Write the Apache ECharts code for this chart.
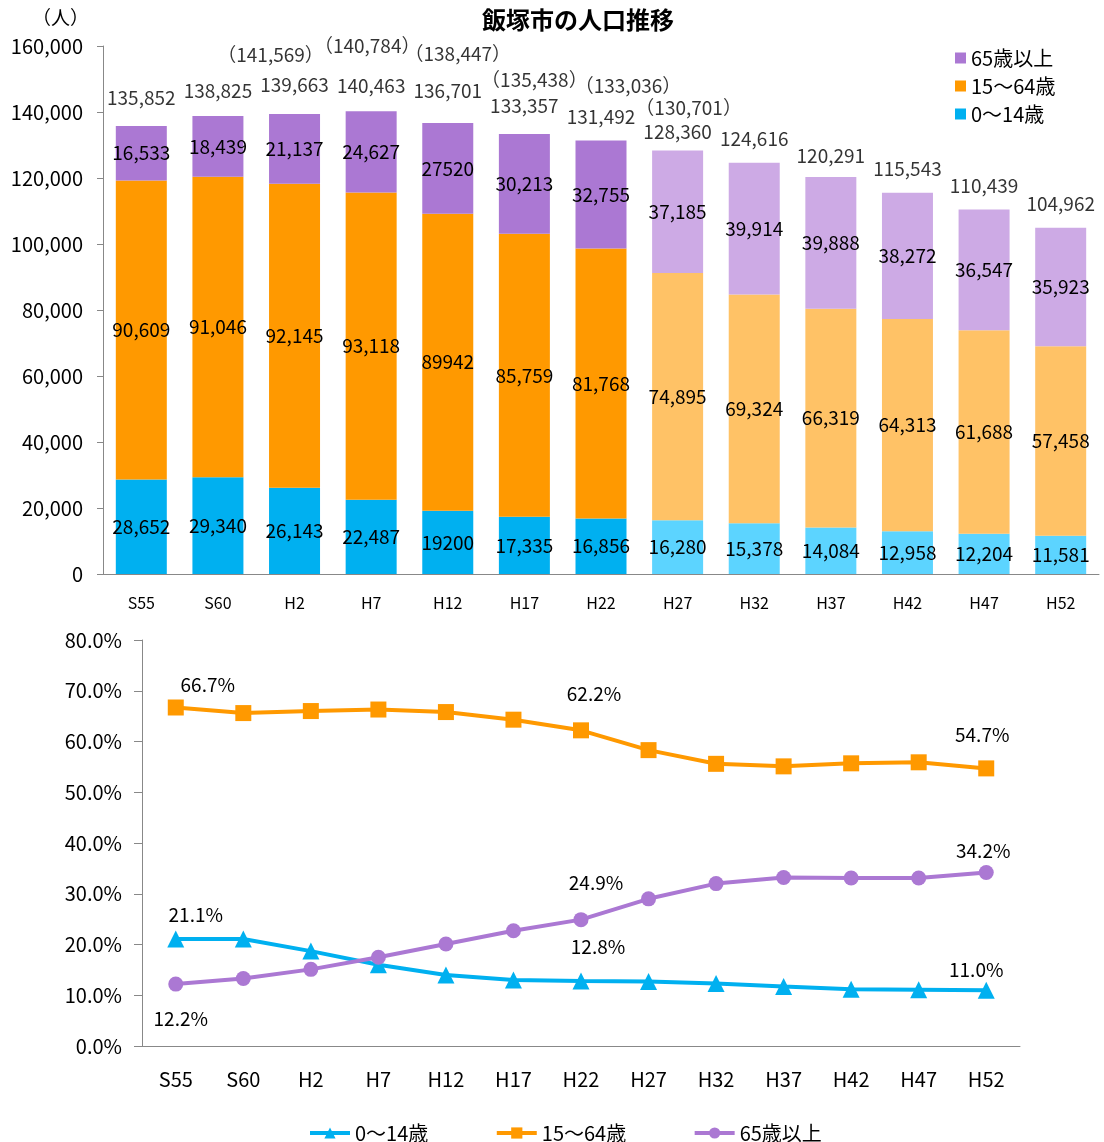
<!DOCTYPE html>
<html><head><meta charset="utf-8">
<script src="https://cdn.jsdelivr.net/npm/echarts@6/dist/echarts.min.js"></script>
<style>html,body{margin:0;padding:0;background:#fff}#c{width:1104px;height:1142px}</style>
</head><body><div id="c"></div>
<script>
// ---------- data ----------
const categories = ['S55','S60','H2','H7','H12','H17','H22','H27','H32','H37','H42','H47','H52'];
const firstProjection = 'H27';
const age0to14  = [28652,29340,26143,22487,19200,17335,16856,16280,15378,14084,12958,12204,11581];
const age15to64 = [90609,91046,92145,93118,89942,85759,81768,74895,69324,66319,64313,61688,57458];
const age65plus = [16533,18439,21137,24627,27520,30213,32755,37185,39914,39888,38272,36547,35923];
const totals    = [135852,138825,139663,140463,136701,133357,131492,128360,124616,120291,115543,110439,104962];
const censusTotals = [null,null,141569,140784,138447,135438,133036,130701,null,null,null,null,null];
const ratio0to14  = [21.1,21.1,18.7,16.0,14.0,13.0,12.8,12.7,12.3,11.7,11.2,11.1,11.0];
const ratio15to64 = [66.7,65.6,66.0,66.3,65.8,64.3,62.2,58.3,55.6,55.1,55.7,55.9,54.7];
const ratio65plus = [12.2,13.3,15.1,17.5,20.1,22.7,24.9,29.0,32.0,33.2,33.1,33.1,34.2];
const seriesNames = ['0～14歳','15～64歳','65歳以上'];
const titleText = '飯塚市の人口推移';
const unitText = '（人）';
const labelledRatioCats = ['S55','H22','H52'];

// ---------- layout / style (not data) ----------
const totalLabelDy = [-28,-25,-28,-25,-32,-28,-23,-19,-24,-21,-24,-24,-24];
const censusLabelOffset = {H2:[-24,-52],H7:[-4,-64],H12:[10,-63],H17:[10,-47],H22:[27,-49],H27:[11,-35]};
const ratioLabelOffset = [
  {S55:[20,-24],H22:[17,-34],H52:[-10,-20]},
  {S55:[32,-23],H22:[13,-37],H52:[-4,-34]},
  {S55:[5,35],H22:[15,-37],H52:[-3,-22]}
];
const dark  = ['#00B0F0','#FF9900','#AB78D3'];
const light = ['#5CD4FF','#FFC266','#CDAAE5'];
const FONT = '"Noto Sans CJK JP", "Noto Sans", sans-serif';
const NUM = 19;

const projIdx = categories.indexOf(firstProjection);
const fmtNum = v => v.toLocaleString('en-US');
const segLabel = (v, cat) => cat === 'H12' ? String(v) : fmtNum(v);

function barSeries(k, arr) {
  return {
    type: 'bar', name: seriesNames[k], stack: 'pop', xAxisIndex: 0, yAxisIndex: 0,
    barWidth: 51,
    itemStyle: { color: dark[k] },
    label: { show: true, position: 'inside', color: '#000', fontSize: NUM, fontFamily: FONT,
      formatter: p => segLabel(p.value, p.name) },
    data: arr.map((v, i) => ({ value: v, itemStyle: { color: i >= projIdx ? light[k] : dark[k] } }))
  };
}
function lineSeries(k, arr, sym, size) {
  return {
    type: 'line', name: seriesNames[k] + ' ', xAxisIndex: 1, yAxisIndex: 1,
    symbol: sym, symbolSize: size,
    lineStyle: { width: 4, color: dark[k] },
    itemStyle: { color: dark[k] },
    data: arr.map((v, i) => {
      const c = categories[i];
      const o = ratioLabelOffset[k][c];
      if (labelledRatioCats.includes(c) && o) {
        return { value: v, label: { show: true, position: 'inside', offset: o, color: '#000',
          fontSize: NUM, fontFamily: FONT, formatter: p => p.value.toFixed(1) + '%' } };
      }
      return v;
    })
  };
}

const axisLineStyle = { color: '#888', width: 1 };
const option = {
  animation: false,
  textStyle: { fontFamily: FONT },
  graphic: [
    { type: 'text', left: 578 - 96, top: 8, style: { text: titleText, fontSize: 24, fontWeight: 'bold', fill: '#000', fontFamily: FONT } },
    { type: 'text', left: 32, top: 8, style: { text: unitText, fontSize: 19, fill: '#000', fontFamily: FONT } }
  ],
  legend: [
    { orient: 'vertical', left: 950, top: 43, itemGap: 8, itemWidth: 11, itemHeight: 11, icon: 'rect',
      textStyle: { fontSize: 20, color: '#000', fontFamily: FONT },
      data: [seriesNames[2], seriesNames[1], seriesNames[0]] },
    { orient: 'horizontal', left: 303, top: 1118, itemGap: 62, itemWidth: 40, itemHeight: 14,
      lineStyle: { width: 4 },
      textStyle: { fontSize: 20, color: '#000', fontFamily: FONT },
      data: seriesNames.map(n => n + ' ') }
  ],
  grid: [
    { left: 103, top: 46, width: 996, height: 528 },
    { left: 142, top: 640, width: 878, height: 406 }
  ],
  xAxis: [
    { type: 'category', gridIndex: 0, data: categories,
      axisLine: { lineStyle: axisLineStyle }, axisTick: { length: 6, lineStyle: axisLineStyle },
      axisLabel: { fontSize: 16, color: '#000', margin: 21, fontFamily: FONT } },
    { type: 'category', gridIndex: 1, data: categories,
      axisLine: { lineStyle: axisLineStyle }, axisTick: { length: 8, lineStyle: axisLineStyle },
      axisLabel: { fontSize: 20, color: '#000', margin: 23, fontFamily: FONT } }
  ],
  yAxis: [
    { type: 'value', gridIndex: 0, min: 0, max: 160000, interval: 20000,
      axisLine: { show: true, lineStyle: axisLineStyle }, axisTick: { show: true, length: 6, lineStyle: axisLineStyle },
      splitLine: { show: false },
      axisLabel: { fontSize: 20, color: '#000', margin: 20, formatter: v => fmtNum(v), fontFamily: FONT } },
    { type: 'value', gridIndex: 1, min: 0, max: 80, interval: 10,
      axisLine: { show: true, lineStyle: axisLineStyle }, axisTick: { show: true, length: 8, lineStyle: axisLineStyle },
      splitLine: { show: false },
      axisLabel: { fontSize: 20, color: '#000', margin: 20, formatter: v => v.toFixed(1) + '%', fontFamily: FONT } }
  ],
  series: [
    barSeries(0, age0to14),
    barSeries(1, age15to64),
    barSeries(2, age65plus),
    { type: 'scatter', name: 'total', xAxisIndex: 0, yAxisIndex: 0, silent: true, symbolSize: 1,
      itemStyle: { color: 'rgba(0,0,0,0)' },
      data: totals.map((v, i) => ({ value: v, label: { show: true, position: 'inside', offset: [0, totalLabelDy[i]],
        color: '#000', fontSize: NUM, fontFamily: FONT, formatter: p => fmtNum(p.value) } })) },
    { type: 'scatter', name: 'census', xAxisIndex: 0, yAxisIndex: 0, silent: true, symbolSize: 1,
      itemStyle: { color: 'rgba(0,0,0,0)' },
      data: censusTotals.map((v, i) => v == null ? '-' : ({ value: v, label: { show: true, position: 'inside',
        offset: censusLabelOffset[categories[i]], color: '#000', fontSize: NUM, fontFamily: FONT,
        formatter: p => '（' + fmtNum(p.value) + '）' } })) },
    lineSeries(0, ratio0to14, 'triangle', 17),
    lineSeries(1, ratio15to64, 'rect', 16),
    lineSeries(2, ratio65plus, 'circle', 15)
  ]
};
const chart = echarts.init(document.getElementById('c'), null, { renderer: 'canvas' });
chart.setOption(option);
</script></body></html>
